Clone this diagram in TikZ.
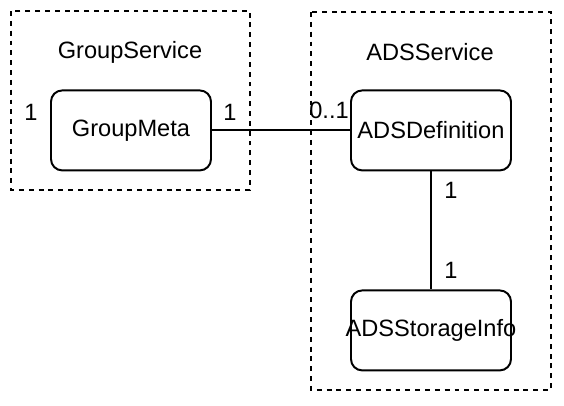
\documentclass[tikz,border=0pt]{standalone}
\usepackage{fontspec}
\setmainfont{Liberation Sans}
\usepackage{tikz}
\usetikzlibrary{positioning}

\begin{document}
\begin{tikzpicture}[line width=1.4pt,
  entity/.style={draw, rounded corners=8pt, minimum width=4cm, minimum height=2cm, align=center, inner sep=0pt},
  service/.style={draw, dash pattern=on 3.5pt off 3.5pt},
  every node/.style={font=\fontsize{16.8pt}{20pt}\selectfont}
]
  \useasboundingbox (0, 0) rectangle (14.1, -10.15);

  % Service boundaries
  \draw[service] (0.275, -0.275) rectangle (6.25, -4.75);
  \draw[service] (7.775, -0.3) rectangle (13.775, -9.75);

  % Service titles
  \node (gstitle) at (3.25, -1.3) {GroupService};
  \node (adstitle) at (10.75, -1.3) {ADSService};

  % Entities
  \node[entity] (meta) at (3.275, -3.26) {GroupMeta};
  \node[entity] (def) at (10.775, -3.26) {ADSDefinition};
  \node[entity] (store) at (10.775, -8.26) {\makebox[0pt]{ADSStorageInfo}};

  \draw (meta) -- (def);
  \draw (def) -- (store);

  % Multiplicities
  \node (m1) at (0.775, -2.8) {1};
  \node (m2) at (5.75, -2.8) {1};
  \node (m3) at (8.225, -2.75) {0..1};
  \node (m4) at (11.275, -4.75) {1};
  \node (m5) at (11.275, -6.75) {1};
\end{tikzpicture}
\end{document}
